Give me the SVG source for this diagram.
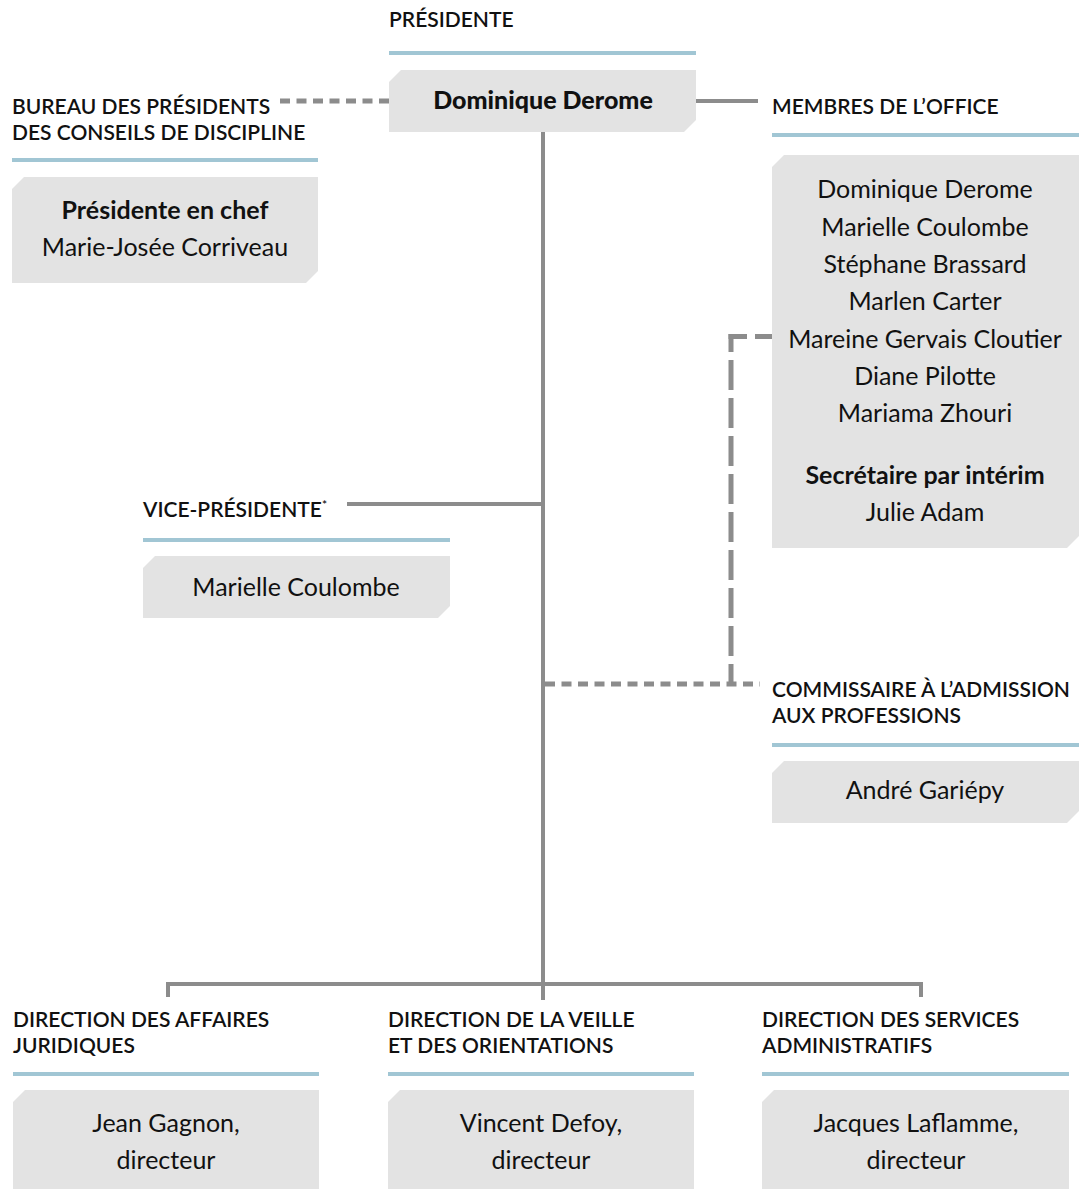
<svg xmlns="http://www.w3.org/2000/svg" width="1081" height="1189" viewBox="0 0 1081 1189">
<style>
.bg{fill:#ffffff}
.box{fill:#e3e3e3}
.rule{fill:#a1c6d4}
.hd{font-family:Lato,"Liberation Sans",sans-serif;font-size:21px;font-weight:600;fill:#111}
.nm{font-family:Lato,"Liberation Sans",sans-serif;font-size:25px;fill:#111;text-anchor:middle}
.b{font-weight:700}
.xb{font-weight:900}
.ln{fill:none;stroke:#8c8c8c;stroke-width:4}
.dash{stroke-width:5;stroke-dasharray:10 6.5}
.ldash{stroke-width:5;stroke-dasharray:30 8;stroke-dashoffset:12}
.sq{stroke-width:5}
</style>
<rect class="bg" x="0" y="0" width="1081" height="1189"/>
<g id="connectors">
<path class="ln" d="M543,132 V1000"/>
<path class="ln" d="M168,997 V984 H921 V997"/>
<path class="ln" d="M696,101 H758"/>
<path class="ln dash" d="M389,101 H279"/>
<path class="ln" d="M543,504 H347"/>
<path class="ln sq" d="M728.5,336.5 H747 M755,336.5 H772"/>
<path class="ln ldash" d="M731,334 V684"/>
<path class="ln dash" d="M545,684 H760"/>
</g>
<g id="presidente">
<text class="hd" x="389" y="27">PRÉSIDENTE</text>
<rect class="rule" x="389" y="51" width="307" height="4"/>
<path class="box" d="M401,70 H696 V120 L684,132 H389 V82 Z"/>
<text class="nm xb" x="543" y="109">Dominique Derome</text>
</g>
<g id="bureau">
<text class="hd" x="12" y="114">BUREAU DES PRÉSIDENTS</text>
<text class="hd" x="12" y="140">DES CONSEILS DE DISCIPLINE</text>
<rect class="rule" x="12" y="158" width="306" height="4"/>
<path class="box" d="M24,177 H318 V271 L306,283 H12 V189 Z"/>
<text class="nm b" x="165" y="219">Présidente en chef</text>
<text class="nm" x="165" y="256">Marie-Josée Corriveau</text>
</g>
<g id="membres">
<text class="hd" x="772" y="114">MEMBRES DE L’OFFICE</text>
<rect class="rule" x="772" y="133" width="307" height="4"/>
<path class="box" d="M784,155 H1079 V536 L1067,548 H772 V167 Z"/>
<text class="nm" x="925" y="198">Dominique Derome</text>
<text class="nm" x="925" y="236">Marielle Coulombe</text>
<text class="nm" x="925" y="273">Stéphane Brassard</text>
<text class="nm" x="925" y="310">Marlen Carter</text>
<text class="nm" x="925" y="348">Mareine Gervais Cloutier</text>
<text class="nm" x="925" y="385">Diane Pilotte</text>
<text class="nm" x="925" y="422">Mariama Zhouri</text>
<text class="nm b" x="925" y="484">Secrétaire par intérim</text>
<text class="nm" x="925" y="521">Julie Adam</text>
</g>
<g id="vice-presidente">
<text class="hd" x="143" y="517">VICE-PRÉSIDENTE<tspan font-size="12" dy="-8">*</tspan></text>
<rect class="rule" x="143" y="538" width="307" height="4"/>
<path class="box" d="M155,556 H450 V606 L438,618 H143 V568 Z"/>
<text class="nm" x="296" y="596">Marielle Coulombe</text>
</g>
<g id="commissaire">
<text class="hd" x="772" y="697">COMMISSAIRE À L’ADMISSION</text>
<text class="hd" x="772" y="723">AUX PROFESSIONS</text>
<rect class="rule" x="772" y="743" width="307" height="4"/>
<path class="box" d="M784,761 H1079 V811 L1067,823 H772 V773 Z"/>
<text class="nm" x="925" y="799">André Gariépy</text>
</g>
<g id="affaires-juridiques">
<text class="hd" x="13" y="1027">DIRECTION DES AFFAIRES</text>
<text class="hd" x="13" y="1053">JURIDIQUES</text>
<rect class="rule" x="13" y="1072" width="306" height="4"/>
<path class="box" d="M25,1090 H319 V1189 H13 V1102 Z"/>
<text class="nm" x="166" y="1132">Jean Gagnon,</text>
<text class="nm" x="166" y="1169">directeur</text>
</g>
<g id="veille-orientations">
<text class="hd" x="388" y="1027">DIRECTION DE LA VEILLE</text>
<text class="hd" x="388" y="1053">ET DES ORIENTATIONS</text>
<rect class="rule" x="388" y="1072" width="306" height="4"/>
<path class="box" d="M400,1090 H694 V1189 H388 V1102 Z"/>
<text class="nm" x="541" y="1132">Vincent Defoy,</text>
<text class="nm" x="541" y="1169">directeur</text>
</g>
<g id="services-administratifs">
<text class="hd" x="762" y="1027">DIRECTION DES SERVICES</text>
<text class="hd" x="762" y="1053">ADMINISTRATIFS</text>
<rect class="rule" x="762" y="1072" width="307" height="4"/>
<path class="box" d="M774,1090 H1069 V1189 H762 V1102 Z"/>
<text class="nm" x="916" y="1132">Jacques Laflamme,</text>
<text class="nm" x="916" y="1169">directeur</text>
</g>
</svg>
